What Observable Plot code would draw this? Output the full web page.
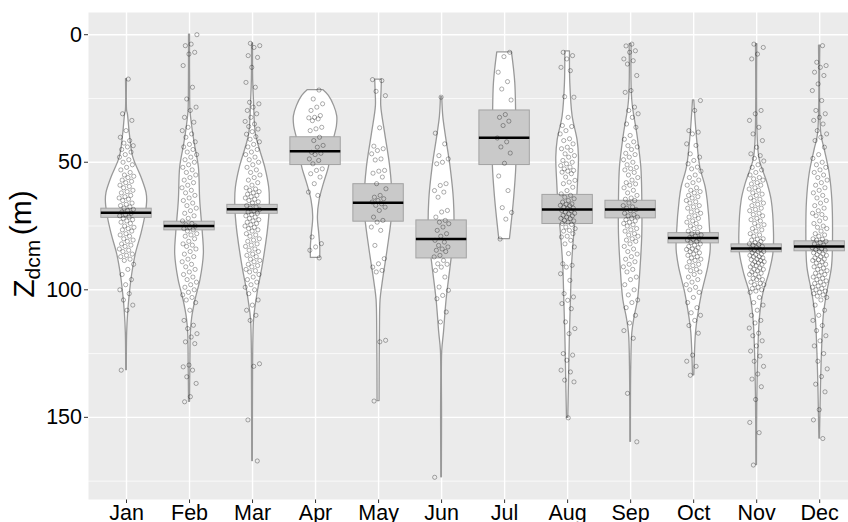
<!DOCTYPE html>
<html>
<head>
<meta charset="utf-8">
<script src="https://cdn.jsdelivr.net/npm/d3@7"></script>
<script src="https://cdn.jsdelivr.net/npm/@observablehq/plot@0.6"></script>
<style>
  body { margin: 0; background: #fff; }
  #chart svg { display: block; }
</style>
</head>
<body>
<div id="chart"></div>
<script>
// ---------- data ----------
const months = ["Jan","Feb","Mar","Apr","May","Jun","Jul","Aug","Sep","Oct","Nov","Dec"];
const yTicks = [0, 50, 100, 150];
const yMinorTicks = [25, 75, 125, 175];

// median and its confidence box (m)
const medians = [69.8, 75.0, 68.4, 45.7, 65.9, 80.1, 40.4, 68.5, 68.5, 79.7, 83.8, 83.0];
const ciLow   = [68.2, 73.3, 66.7, 40.2, 58.6, 72.8, 29.7, 62.8, 65.1, 77.8, 82.2, 81.0];
const ciHigh  = [71.8, 76.7, 70.2, 51.1, 73.3, 87.7, 51.1, 74.2, 72.0, 81.8, 85.3, 84.9];

// violin density profiles: [depth, relative density]
const violinJan = [[17.4,1.5],[30,2],[31,4],[39,10],[48,20],[56,45],[62,60],[65,62],[70,58],[78,45],[86,28],[94,17],[101.5,10],[109,5],[117,2],[131.5,1]];
const violinFeb = [[0,1.5],[25,2],[30,3],[36,8],[43,16],[52,28],[65,32],[78,40],[86,43],[96,33],[104,18],[111,8],[117,4],[130,2.5],[143.9,1.5]];
const violinMar = [[3.4,1.5],[18,2],[25,4],[39,10],[45,22],[52,38],[60,50],[65,52],[71.5,50],[78,45],[91,30],[101.5,15],[111,5],[120,2.5],[140,1.5],[167.1,1]];
const violinApr = [[21.7,23],[24,40],[28,56],[32,65],[36,64],[41,55],[47,46],[52,40],[58.5,25],[65,12],[71.5,7],[78,11],[83,14],[87.5,14]];
const violinMay = [[17.6,10],[22,9],[28,8],[39,20],[52,35],[65,42],[71.5,40],[84.5,27],[97.6,12],[104,6],[117,4],[143.6,3]];
const violinJun = [[24.5,2],[32,5],[39,12],[52,27],[65,37],[78,38],[91,27],[104,15],[117,7],[124,2],[150,1.5],[173.5,1]];
const violinJul = [[6.9,22],[19,32],[39,35],[52,35],[65,28],[75.4,20],[80.1,16]];
const violinAug = [[6.5,7],[19,8],[32,15],[41.5,30],[48,34],[58.5,31],[67.6,27],[78,20],[91,13],[104,10],[117,7],[130,5],[150.2,2]];
const violinSep = [[3.7,3],[26,5],[39,20],[52,32],[65,35],[78,35],[91,30],[104,22],[110.6,12],[117,5],[130,2],[159.6,1]];
const violinOct = [[25.8,2],[39,9],[52,20],[59.8,36],[65,42],[78,50],[84.5,51],[91,44],[101.5,25],[110.6,13],[117,7],[133.5,2]];
const violinNov = [[3.7,2],[40,3],[49,9],[58.5,33],[65,45],[78,52],[86,50],[94,37],[101.5,20],[110.6,10],[124,5],[143,2],[168.7,1]];
const violinDec = [[4.3,2],[39,5],[45,15],[54.5,30],[65,38],[78,40],[91,37],[101.5,22],[110.6,12],[124,7],[137,4],[158.3,1]];

// observed Z_dcm values (m)
const obsJan = [17.4,31.0,33.6,37.6,40.2,41.5,42.5,43.5,44,45,46,47,48,49,50,51,52,53,54,55,55.5,56,57,57.5,58,59,59.5,60,61,61.5,62,63,63.5,64,64.5,65,66,66.5,67,67.5,68,68.5,69,69.5,70,70.5,71,71.5,72,72.5,73,73.5,74,75,75.5,76,76.5,77,78,78.5,79,80,80.5,81,82,82.5,83,84,84.5,85,86,86.5,87,88,88.5,90,92,94,96,98,100,101.5,104,106,108,131.5];
const obsFeb = [0,3.7,4.3,6.9,7.6,12.1,20.6,25.2,28.4,29.7,32.4,34.3,36.3,37.6,38.9,40.2,42,43,44,45,46,47,48,49,50,51,52,53,54,55,56,57,58,59,60,61,62,63,64,65,66,67,68,69,70,71,72,73,74,74.5,75,75.5,76,76.5,77,78,78.5,79,80,81,82,82.5,83,84,85,86,87,88,89,90,91,92,93,94,95,96,97,98,99,100,101,102,103,104,105,108,112,113.9,115.2,117.2,118.5,120.4,121.1,129.5,130.2,131.5,134.1,136.7,141.9,143.9];
const obsMar = [3.4,4.3,5.0,8.2,8.9,12.8,18.7,20.6,26.5,27.1,28.4,29.7,31.0,32.4,34,35,36,37,38,39,40,41,42,43,44,45,46,47,48,49,50,51,52,53,54,55,56,57,58,59,60,60.5,61,61.5,62,62.5,63,63.5,64,64.5,65,65.5,66,67,67.5,68,68.5,69,69.5,70,70.5,71,71.5,72,72.5,73,73.5,74,74.5,75,75.5,76,76.5,77,78,78.5,79,80,80.5,81,82,82.5,83,84,84.5,85,86,86.5,87,88,88.5,89,90,90.5,91,92,92.5,93,94,95,96,97,98,99,100,101.5,104,106,108,110,112,129,130,151,167.1];
const obsApr = [21.7,25.2,27.1,28.4,29.7,31.7,32.4,32.6,33.0,33.7,36.3,36.9,37.6,40.2,41.5,43.4,44.1,46.1,46.5,47,48.7,49.3,50.6,52.6,53.2,54.5,55.8,58.4,61.7,63.0,79.3,81.9,83.2,84.5,87.5];
const obsMay = [17.6,18.0,22.2,23.9,36.5,43.7,44.7,45.4,46.7,48.7,49.1,53.2,53.5,54.3,55.8,58.4,60.4,63.0,63.7,64.3,65.0,65.6,66.3,66.9,67.6,68.9,71.5,72.8,73.5,75.4,76.7,82.6,87.8,89.8,91.1,92.4,93.0,119.8,120.4,143.6];
const obsJun = [24.5,38.6,42.8,47.4,48.7,50.0,50.6,58.4,59.1,61.1,61.7,63.7,68.9,69.5,71.5,72.8,73.5,74.1,75.4,76.7,78.0,79,80.6,81.3,82.6,83.2,84,84.5,85,86.5,87.1,88.5,89.8,90,91.1,92.4,95.0,98.9,100.2,102.2,103.5,108.7,112.6,173.5];
const obsJul = [6.9,8.6,14.7,18.4,21.3,25.6,31.3,32.4,33.9,35.6,40.5,42,44,46.4,50.4,55.4,61.1,67.8,69.7,72.3,80.1];
const obsAug = [6.9,8.2,9.5,12.8,14.1,24.3,24.5,32.4,35.6,36.0,37.6,38.9,40.8,41.5,42.8,44.1,44.7,45.4,46.7,47.4,48.0,49.3,50.0,50.6,51.3,51.9,52.6,53.2,53.5,53.9,54.5,55.8,57.1,57.8,58.4,59.8,61.1,62.4,63.0,63.7,64.3,65.0,65.6,66.3,66.5,66.9,67,67.6,68,68.2,68.9,69,69.5,70,70.2,70.8,71,71.5,72,72.1,72.8,73,73.5,74,74.4,75.4,76,76.7,77,78.0,79,79.3,80.6,82,83.2,85.8,89.8,90.4,91.1,93.7,96.3,101.5,102.8,104.1,105.4,107.4,112.6,115.2,117.2,125.0,125.6,127.6,131.5,132.2,135.4,136.1,150.2];
const obsSep = [3.7,4.4,6.3,6.9,9.5,10.2,11.5,16.0,21.9,22.6,28.4,29.7,31.0,32.4,35.0,36.3,39.5,41,42,43.5,44,45,46.5,47,48,49,50,51,52,52.5,53,54,55,56,57,58,58.5,59,60,61,62,63,64,64.5,65,66,67,67.5,68,68.5,69,70,70.5,71,71.5,72,72.5,73,73.5,74,74.5,75,76,76.5,77,78,78.5,79,80,80.5,81,82,83,84,85,86,87,88,89,90,91,92,93,95,96,98,100,102,104,105,107,110,113,116,119,140.6,159.6];
const obsOct = [25.8,29.7,37.6,38.2,38.9,42.8,43.4,46.7,48.0,49.3,50.6,51.9,52.6,53.5,55,56,57,58,59,60,61,61.5,62,63,63.5,64,65,65.5,66,67,67.5,68,69,69.5,70,71,71.5,72,73,73.5,74,75,75.5,76,77,77.5,78,78.5,79,79.5,80,80.2,80.5,81,81.5,82,82.5,83,83.5,84,84.2,84.5,85,85.5,86,86.5,87,87.5,88,88.5,89,90,90.5,91,92,92.5,93,94,95,96,97,98,99,100,101,103,105,107,109,110,112,114,117,125.6,128,130,133.5];
const obsNov = [3.7,5.0,7.6,9.5,29.7,31,33.6,36.3,38.9,41.5,44.1,46.7,47.4,48.5,49.5,51,52,53,54,55,56,56.5,57,58,58.5,59,60,60.5,61,62,62.5,63,64,64.5,65,66,66.5,67,68,68.5,69,70,70.5,71,72,72.5,73,74,74.5,75,76,76.5,77,78,78.5,79,80,80.2,80.5,81,81.5,82,82.2,82.5,83,83.5,84,84.2,84.5,85,85,85.5,86,86.2,86.5,87,87,87.5,88,88.2,88.5,89,89,89.5,90,90,90.5,91,91.5,92,92,92.5,93,93.5,94,94,95,95.5,96,96,97,97.5,98,98,99,99.5,100,100.5,101,103,105,106,108,110,112,113,115,117,118,120,122,124,126,128,130,133,135,138,143,152,156,168.7];
const obsDec = [4.3,10.8,12.1,12.8,14.7,16.0,19.3,21.9,25.8,29.7,31.0,32.4,33.6,35.0,37.6,38.9,40.2,41.5,44.1,47,48.5,50,51,52,53,54,55,56,57,58,59,60,61,62,63,64,65,66,67,68,69,70,70.5,71,72,73,74,75,75.5,76,77,78,78.5,79,80,80.2,80.5,81,81.5,82,82.5,83,83.5,84,84.2,84.5,85,85.5,86,86.2,86.5,87,87.5,88,88.2,88.5,89,89.5,90,90.5,91,91.5,92,92.5,93,93.5,94,94.5,95,95.5,96,96.5,97,97.5,98,98.5,99,99.5,100,100.5,101,101.5,102,102.5,103,104,106,108,110,112,114,116,118,120,122,125,128,131,134,137,140,147,151,158.3];

const violins = [violinJan, violinFeb, violinMar, violinApr, violinMay, violinJun, violinJul, violinAug, violinSep, violinOct, violinNov, violinDec];
const observations = [obsJan, obsFeb, obsMar, obsApr, obsMay, obsJun, obsJul, obsAug, obsSep, obsOct, obsNov, obsDec];

// ---------- tables for the library ----------
const violinWidth = 1 / 189;   // density units -> x (month) units
const jitterWidth = 0.12;
const violinRows = violins.flatMap((v, i) => v.map(([depth, dens]) => ({month: i + 1, depth, hw: dens * violinWidth})));
const pointRows = observations.flatMap((vals, i) => vals.map((depth, j) => {
  const f = ((j + 1) * 0.6180339887 + i * 0.37) % 1;  // deterministic jitter position
  return {month: i + 1, depth, jx: i + 1 + (f - 0.5) * 2 * jitterWidth};
}));
const boxRows = months.map((m, i) => ({month: i + 1, med: medians[i], lo: ciLow[i], hi: ciHigh[i]}));

const font = "'Liberation Sans', Arial, Helvetica, sans-serif";

const chart = Plot.plot({
  width: 848,
  height: 522,
  marginLeft: 88,
  marginRight: 0,
  marginTop: 12,
  marginBottom: 23,
  style: {fontFamily: font, fontSize: "21.5px", color: "#000", background: "#fff"},
  x: {type: "linear", domain: [0.4, 12.6], range: [88.2, 857], ticks: d3.range(1, 13),
      tickFormat: d => months[d - 1], tickSize: 4, tickPadding: 1.5, label: null},
  y: {domain: [-8.7, 182.2], reverse: true, ticks: yTicks, tickSize: 4, tickPadding: 2.5, label: null},
  marks: [
    Plot.frame({fill: "#ebebeb", stroke: null}),
    Plot.ruleY(yMinorTicks, {stroke: "#fff", strokeWidth: 0.7}),
    Plot.ruleY(yTicks, {stroke: "#fff", strokeWidth: 1.4}),
    Plot.ruleX(d3.range(1, 13), {stroke: "#fff", strokeWidth: 1.4}),
    Plot.areaX(violinRows, {
      y: "depth", x1: d => d.month - d.hw, x2: d => d.month + d.hw, z: "month",
      curve: "catmull-rom", fill: "#fff", stroke: "#999", strokeWidth: 1.3
    }),
    Plot.rect(boxRows, {x1: d => d.month - 0.4, x2: d => d.month + 0.4, y1: "lo", y2: "hi",
      fill: "#c9c9c9", stroke: "#a3a3a3", strokeWidth: 1}),
    Plot.dot(pointRows, {x: "jx", y: "depth", r: 2.1, fill: "none", stroke: "#000", strokeOpacity: 0.45, strokeWidth: 0.7}),
    Plot.ruleY(boxRows, {y: "med", x1: d => d.month - 0.4, x2: d => d.month + 0.4, stroke: "#000", strokeWidth: 2.6})
  ]
});

document.getElementById("chart").appendChild(chart);

// y-axis title with subscript
const svg = d3.select(chart);
svg.selectAll("g[aria-label='y-axis tick'] path, g[aria-label='x-axis tick'] path").attr("stroke", "#333");
const t = svg.append("text")
  .attr("transform", "translate(34,244) rotate(-90)")
  .attr("text-anchor", "middle")
  .attr("font-family", font)
  .attr("font-size", 30)
  .attr("fill", "#000");
t.append("tspan").text("Z");
t.append("tspan").attr("font-size", 21).attr("dy", "0.28em").text("dcm");
t.append("tspan").attr("dy", "-0.28em").attr("dx", "0.15em").text("(m)");
</script>
</body>
</html>
